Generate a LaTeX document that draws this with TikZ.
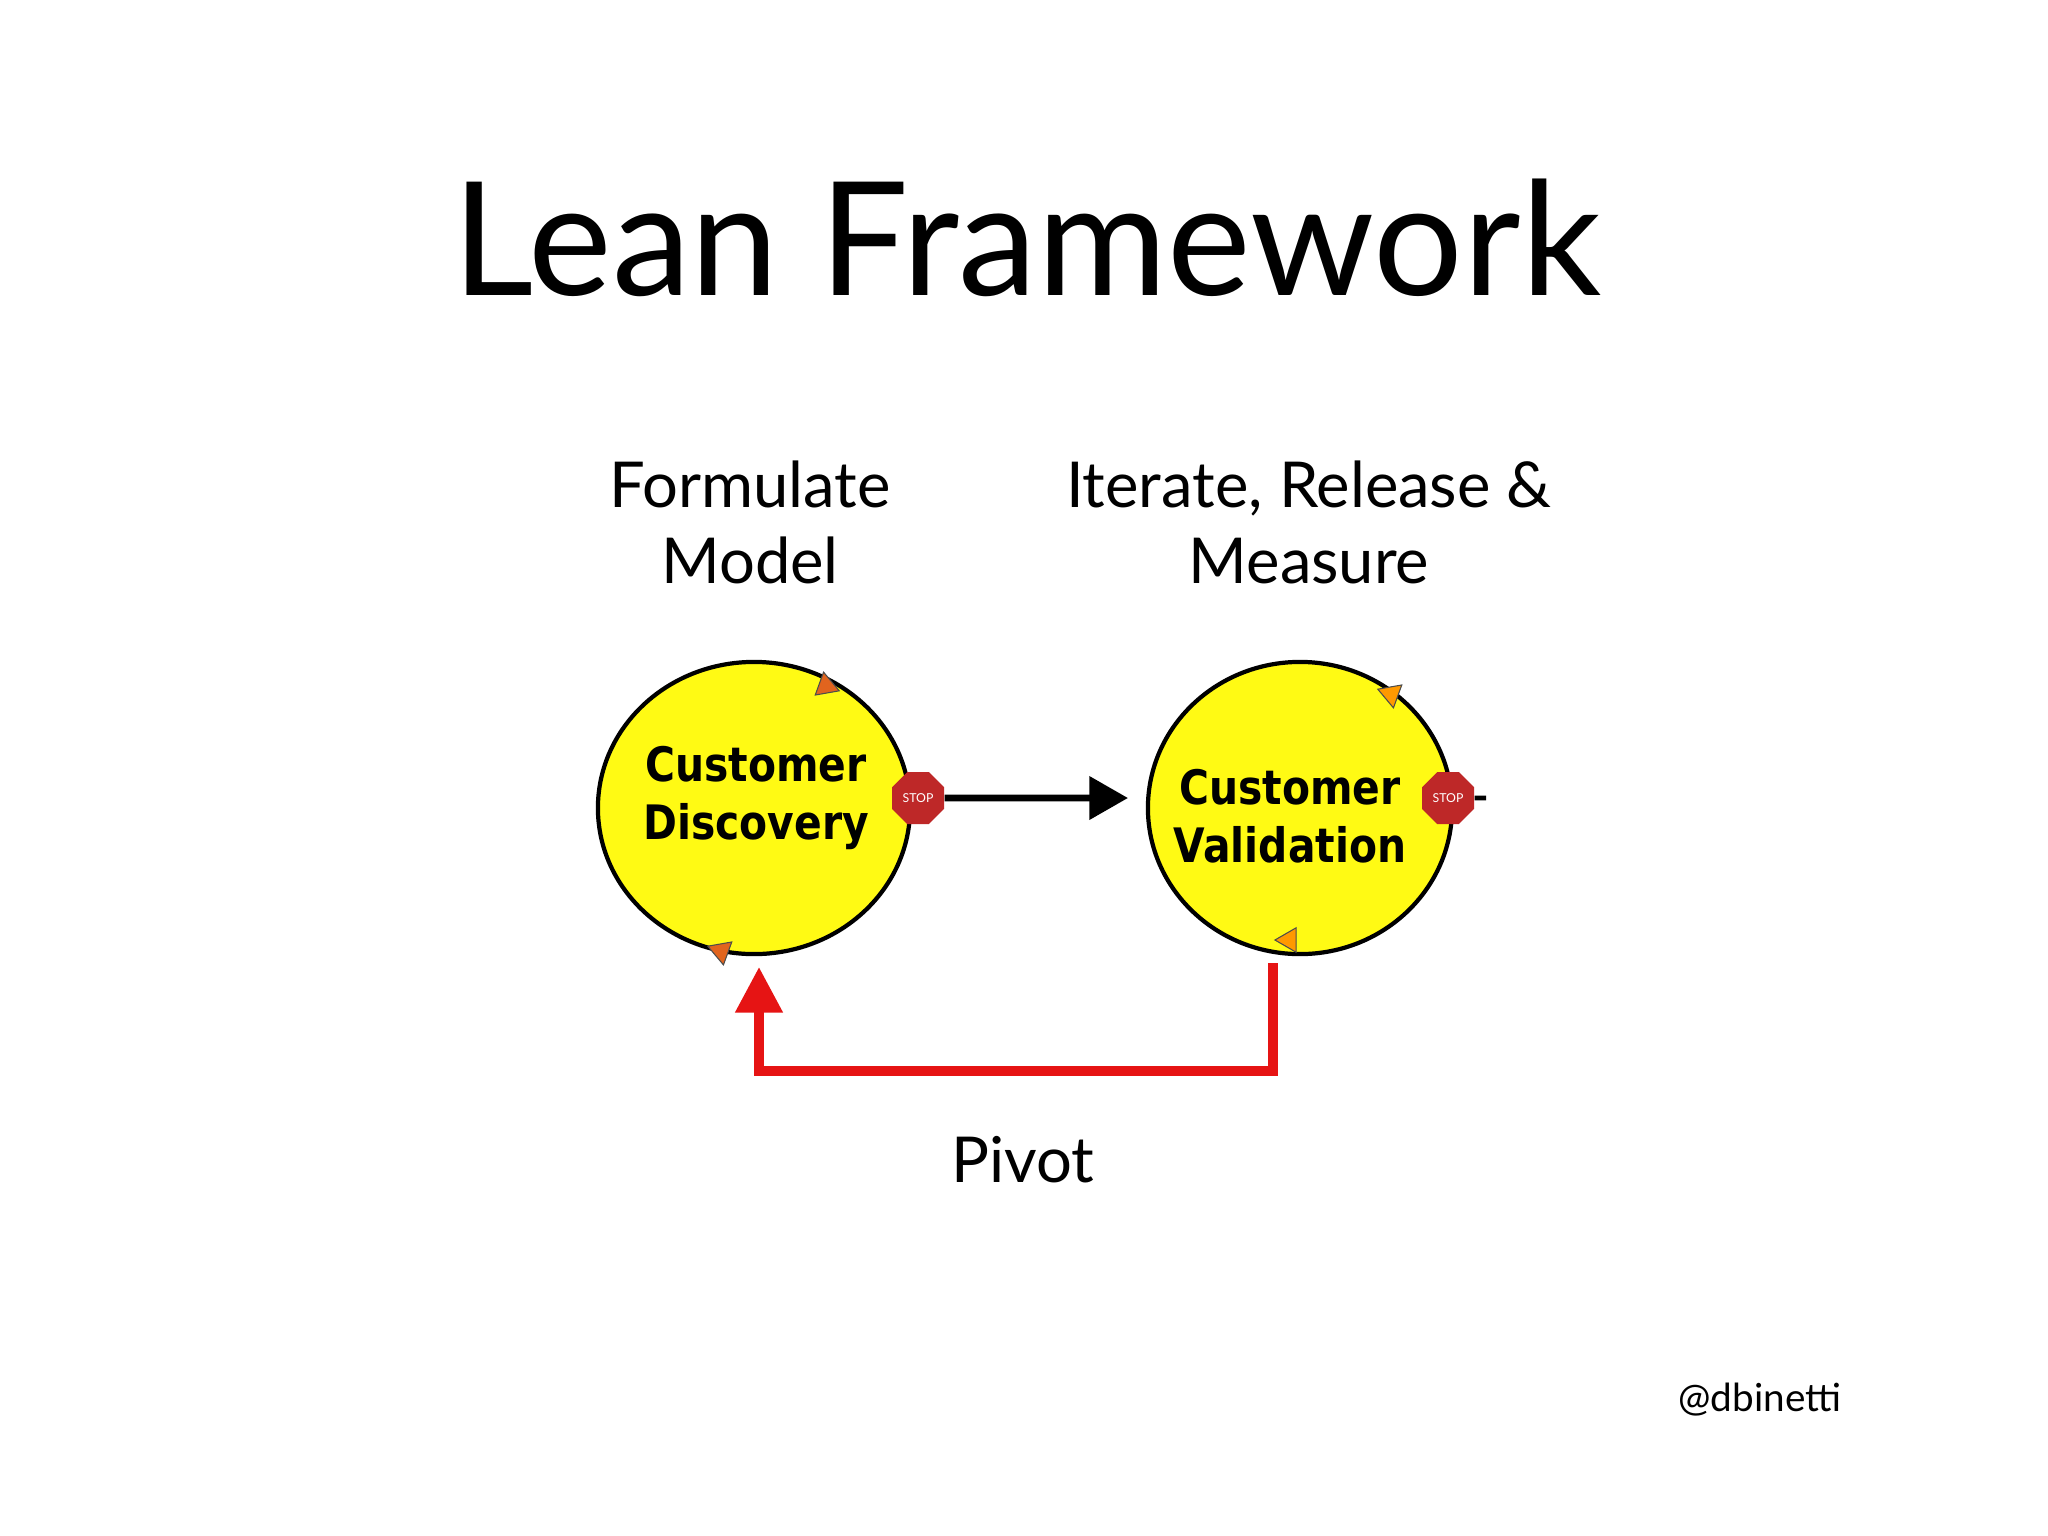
\documentclass[tikz,border=0pt]{standalone}
\usepackage{fontspec}
\setmainfont{Lato}
\newfontfamily\circfont{DejaVu Sans}[FakeStretch=0.86]
\usetikzlibrary{shapes.geometric,arrows.meta}
\definecolor{cyel}{RGB}{255,250,20}
\definecolor{stopred}{RGB}{190,40,40}
\definecolor{pivred}{RGB}{230,20,20}
\definecolor{tri}{RGB}{225,100,30}
\tikzset{
  lbl/.style={font=\fontsize{18}{21.6}\selectfont, align=center},
  circ/.style={ellipse, draw=black, line width=1.2pt, fill=cyel},
  ctext/.style={font=\circfont\bfseries\fontsize{13.5}{16.5}\selectfont, align=center},
  stopsign/.style={regular polygon, regular polygon sides=8, fill=stopred, minimum size=16pt, inner sep=0pt, font=\fontsize{3.5}{4}\selectfont, text=white},
  trimark/.style={isosceles triangle, fill=tri, draw=black!70, line width=0.3pt, minimum size=6pt, inner sep=0pt, isosceles triangle apex angle=60}
}
\begin{document}
\begin{tikzpicture}[x=0.01cm,y=-0.01cm]
\useasboundingbox (0,0) rectangle (2048,1536);
\fill[white] (0,0) rectangle (2048,1536);
\node (title) at (1027,238) {\fontsize{45}{50}\selectfont Lean Framework};
\node[lbl] (fm) at (750,522) {Formulate\\Model};
\node[lbl] (irm) at (1309,522) {Iterate, Release \&\\Measure};
\node[circ, minimum width=3.12cm, minimum height=2.92cm] (cd) at (754,808) {};
\node[circ, minimum width=3.04cm, minimum height=2.92cm] (cv) at (1300,808) {};
\node[ctext] (cdt) at (756,798) {Customer\\Discovery};
\node[ctext] (cvt) at (1290,816) {Customer\\Validation};
\node[stopsign] (s1) at (918,798) {STOP};
\node[stopsign] (s2) at (1448,798) {STOP};
\coordinate (s2e) at (1486,798);
\draw[line width=1.4pt] (s2) -- (s2e);
\draw[line width=1.9pt, -{Triangle[length=11pt,width=12pt]}] (s1.east) -- (1128,798) coordinate (ae);
\node[trimark, rotate=-20] (t1) at (826,686) {};
\node[trimark, rotate=160] (t2) at (721,951) {};
\node[trimark, rotate=160, fill=orange!80!yellow] (t3) at (1391,694) {};
\node[trimark, rotate=-60, fill=orange!80!yellow] (t4) at (1289,940) {};
\coordinate (r0) at (1273,963);
\coordinate (r1) at (1273,1071);
\coordinate (r2) at (759,1071);
\coordinate (r3) at (759,967);
\draw[pivred, line width=2.6pt, -{Triangle[length=13pt,width=13pt]}] (r0) -- (r1) -- (r2) -- (r3);
\node[lbl] (pivot) at (1023,1160) {Pivot};
\node (handle) at (1760,1400) {\fontsize{11}{13}\selectfont @dbinetti};
\end{tikzpicture}
\end{document}
